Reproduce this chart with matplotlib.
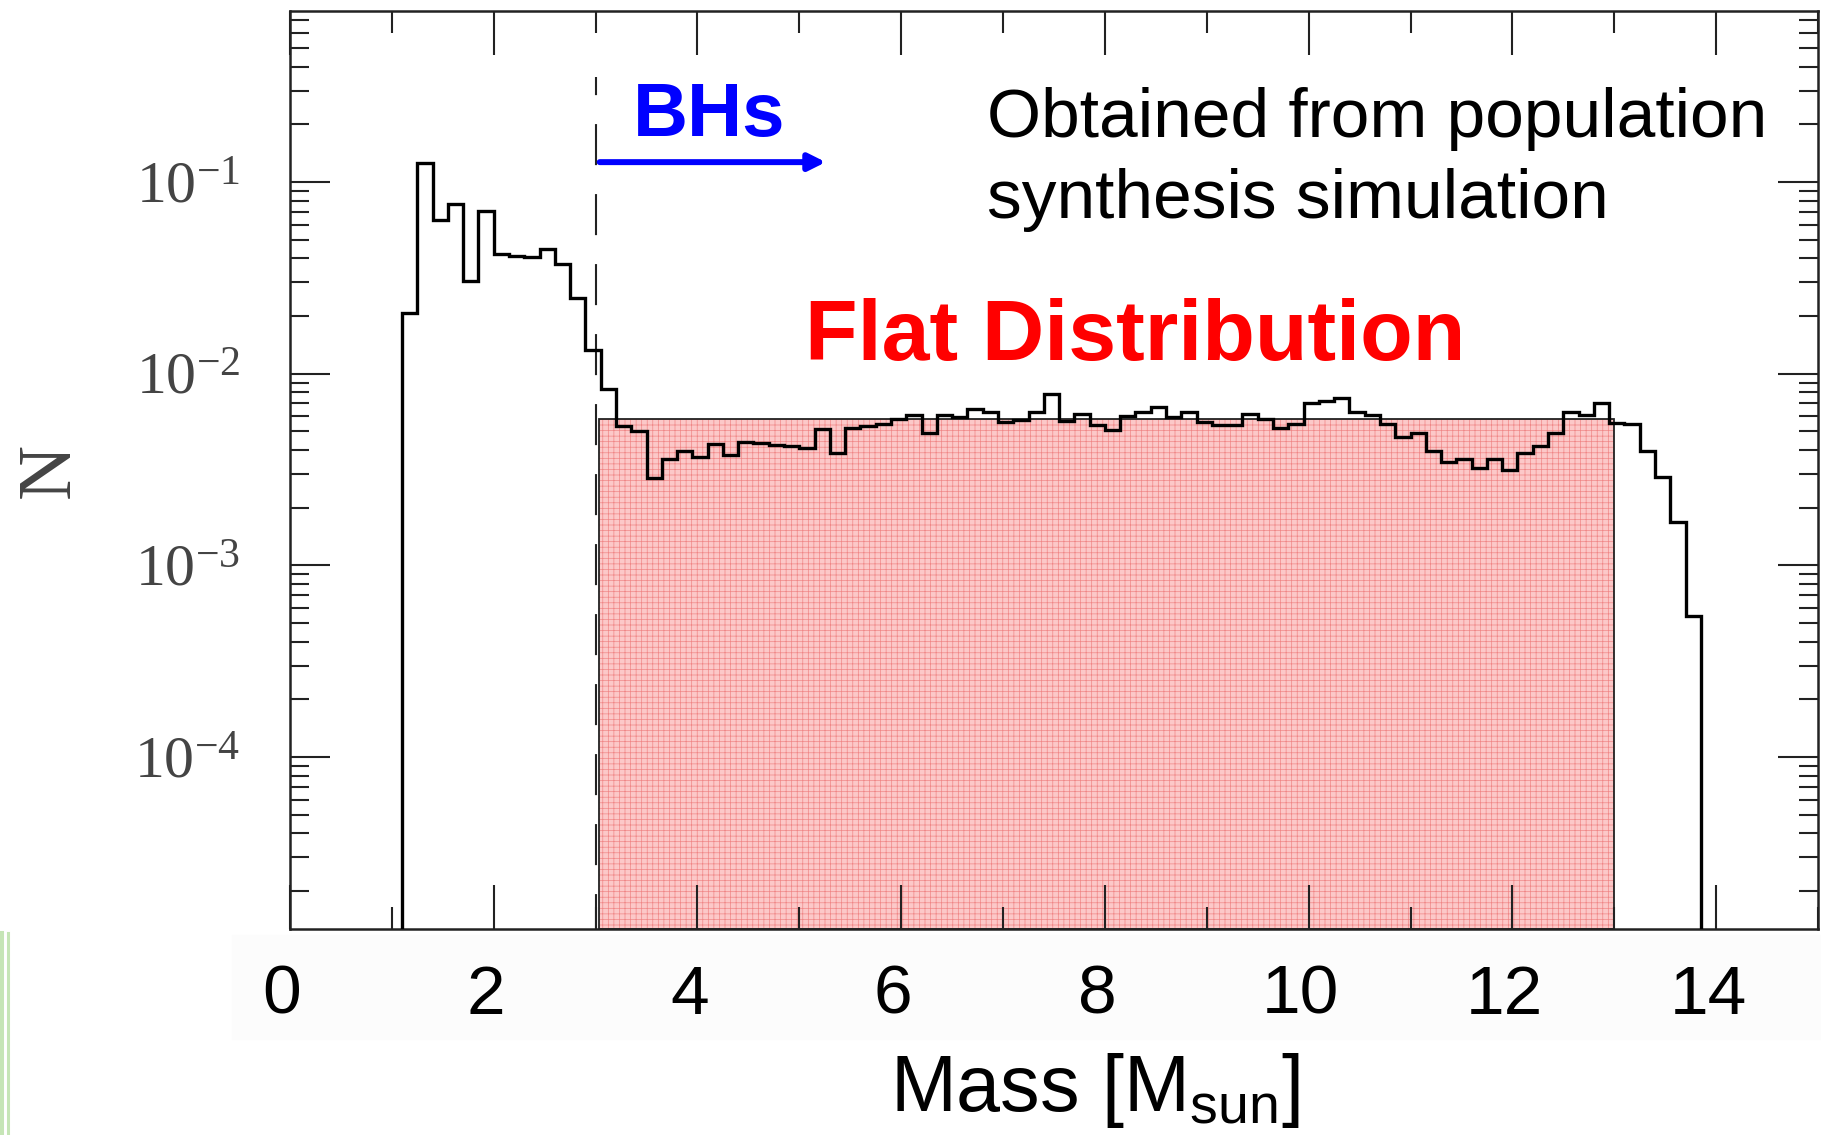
import numpy as np
import matplotlib
matplotlib.use('Agg')
import matplotlib.pyplot as plt
from matplotlib.patches import Rectangle, FancyArrowPatch
from matplotlib.lines import Line2D
from matplotlib.ticker import FixedLocator, LogLocator, NullFormatter, MultipleLocator
from matplotlib.transforms import ScaledTranslation

plt.rcParams['font.family'] = ['Liberation Sans', 'DejaVu Sans']
plt.rcParams['mathtext.default'] = 'regular'
plt.rcParams['hatch.linewidth'] = 0.5

# remnant mass histogram from the population synthesis run (bins of 0.15 Msun)
bin_start = 1.1
bin_width = 0.15
counts = [0.0208, 0.125, 0.0635, 0.0769, 0.0306, 0.0705, 0.0420, 0.0412, 0.0405, 0.0450,
          0.0373, 0.0247, 0.0133, 0.00834, 0.00532, 0.00501, 0.00285, 0.00361, 0.00396, 0.00368,
          0.00429, 0.00379, 0.00438, 0.00436, 0.00427, 0.00419, 0.00409, 0.00518, 0.00387, 0.00520,
          0.00531, 0.00548, 0.00582, 0.00608, 0.00488, 0.00608, 0.00598, 0.00658, 0.00628, 0.00558,
          0.00577, 0.00633, 0.00781, 0.00565, 0.00619, 0.00543, 0.00510, 0.00600, 0.00633, 0.00674,
          0.00598, 0.00633, 0.00558, 0.00543, 0.00543, 0.00619, 0.00579, 0.00520, 0.00550, 0.00705,
          0.00719, 0.00751, 0.00633, 0.00610, 0.00548, 0.00469, 0.00490, 0.00396, 0.00347, 0.00360,
          0.00323, 0.00360, 0.00313, 0.00387, 0.00422, 0.00488, 0.00630, 0.00608, 0.00701, 0.00556,
          0.00545, 0.00396, 0.00291, 0.00169, 0.000548]
edges = bin_start + bin_width * np.arange(len(counts) + 1)

# flat distribution box and BH mass cut
flat_lo, flat_hi = 3.03, 13.0
flat_level = 5.82e-3
bh_cut = 3.0
cut_top = 0.355

x_lim = (0, 15)
y_lim = (1.27e-5, 0.78)
x_major = [0, 2, 4, 6, 8, 10, 12, 14]
y_major = [1e-4, 1e-3, 1e-2, 1e-1]
y_labels = [r'$10^{-4}$', r'$10^{-3}$', r'$10^{-2}$', r'$10^{-1}$']

W, H = 1821, 1135
fig = plt.figure(figsize=(W / 100, H / 100), dpi=100)
ax = fig.add_axes([290 / W, 1 - 929 / H, 1528 / W, 918 / H])

# faint box behind the x tick labels, green strip at the left edge
fig.patches.append(Rectangle((232 / W, 1 - 1039 / H), 1 - 232 / W, 104 / H,
                             transform=fig.transFigure, color='#fcfcfc', zorder=-5))
fig.add_artist(Line2D([2 / W, 2 / W], [0, 1 - 933 / H], transform=fig.transFigure,
                      color='#c6e5b6', lw=2.9))
fig.add_artist(Line2D([7.5 / W, 7.5 / W], [0, 1 - 933 / H], transform=fig.transFigure,
                      color='#c6e5b6', lw=2.2))

ax.set_yscale('log')
ax.set_xlim(*x_lim)
ax.set_ylim(*y_lim)

# flat distribution
ax.add_patch(Rectangle((flat_lo, y_lim[0]), flat_hi - flat_lo, flat_level - y_lim[0],
                       facecolor='#fcc8c8', edgecolor='#f08686', hatch='+++',
                       linewidth=0, zorder=1))
ax.add_patch(Rectangle((flat_lo, y_lim[0]), flat_hi - flat_lo, flat_level - y_lim[0],
                       fill=False, edgecolor='#222222', linewidth=1.3, zorder=2))

ax.stairs(counts, edges, baseline=y_lim[0], color='black', lw=2.4, zorder=3)

ax.plot([bh_cut, bh_cut], [cut_top, y_lim[0]], color='#222222', lw=1.5,
        linestyle=(11, (19.7, 13.9)), zorder=2)

ax.add_patch(FancyArrowPatch((3.04, 0.127), (5.26, 0.127),
                             arrowstyle='-|>,head_length=0.5,head_width=0.25',
                             mutation_scale=20, color='#0000ff', lw=4.3,
                             shrinkA=0, shrinkB=0, zorder=4))
ax.text(4.116, 0.173, 'BHs', color='#0000ff', fontsize=55, fontweight='bold',
        ha='center', va='baseline')
ax.text(5.06, 0.01174, 'Flat Distribution', color='#ff0000', fontsize=62,
        fontweight='bold', ha='left', va='baseline')
ax.text(6.84, 0.1726, 'Obtained from population', color='black', fontsize=50,
        ha='left', va='baseline')
ax.text(6.84, 0.0653, 'synthesis simulation', color='black', fontsize=50,
        ha='left', va='baseline')

# axes styling
for sp in ax.spines.values():
    sp.set_linewidth(1.8)
    sp.set_color('#222222')

ax.xaxis.set_major_locator(FixedLocator(x_major))
ax.xaxis.set_minor_locator(MultipleLocator(1))
ax.yaxis.set_major_locator(FixedLocator(y_major))
ax.yaxis.set_minor_locator(LogLocator(base=10, subs=np.arange(2, 10)))
ax.yaxis.set_minor_formatter(NullFormatter())
ax.set_yticklabels(y_labels, fontfamily='Liberation Serif', fontsize=43, color='#444444')
ax.set_xticklabels([str(v) for v in x_major], fontsize=50)

ax.tick_params(which='both', direction='in', top=True, right=True, width=1.5, colors='#222222')
ax.tick_params(axis='x', which='major', length=32, pad=25, labelcolor='black')
ax.tick_params(axis='x', which='minor', length=16)
ax.tick_params(axis='y', which='major', length=29, pad=36, labelcolor='#444444')
ax.tick_params(axis='y', which='minor', length=14)

shift = ScaledTranslation(-8 / 100, 0, fig.dpi_scale_trans)
for lbl in ax.get_xticklabels():
    lbl.set_transform(lbl.get_transform() + shift)

fig.text(50 / W, 1 - 470 / H, 'N', rotation=90, ha='center', va='center',
         fontfamily='Liberation Serif', fontsize=55, color='#444444')
fig.text(1095 / W, 1 - 1111 / H, r'Mass [M$_{sun}$]', ha='center', va='baseline',
         fontsize=57)

fig.savefig('out.png', dpi=100)
